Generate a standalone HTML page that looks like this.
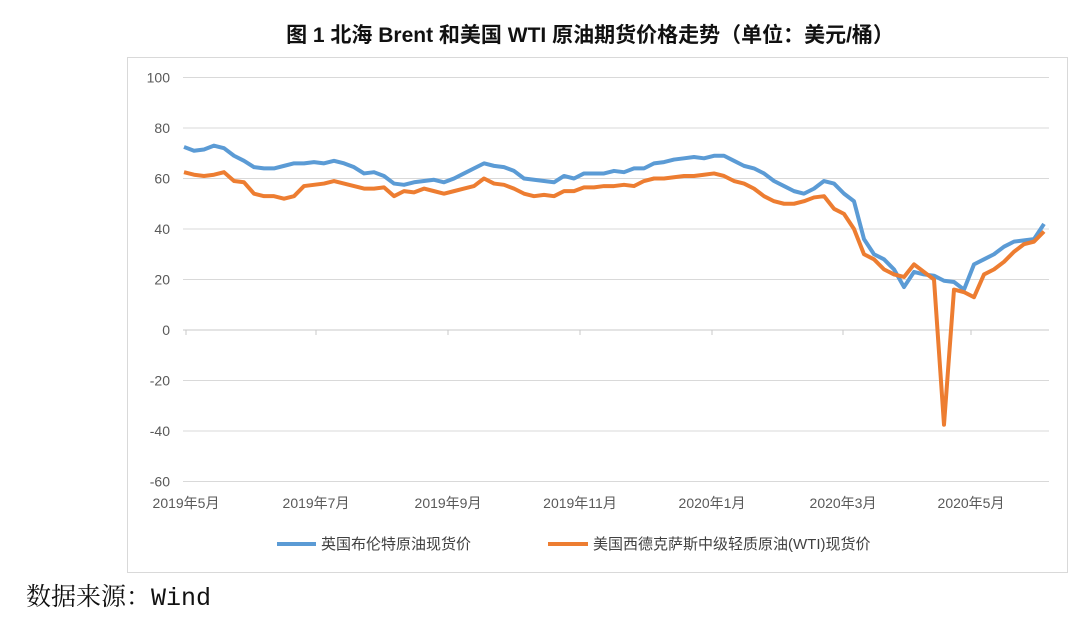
<!DOCTYPE html>
<html><head><meta charset="utf-8"><style>
body{margin:0;background:#fff;width:1080px;height:613px;overflow:hidden;font-family:"Liberation Sans","Noto Sans CJK SC",sans-serif;}
</style></head><body>
<svg width="1080" height="613">
<text x="590" y="42" text-anchor="middle" font-size="21" font-weight="bold" fill="#111" font-family="Liberation Sans, Noto Sans CJK SC, sans-serif">图 1 北海 Brent 和美国 WTI 原油期货价格走势（单位：美元/桶）</text>
<rect x="127.5" y="57.5" width="940" height="515" fill="none" stroke="#d9d9d9"/>
<g id="grid"></g><g id="axes"></g><g id="lines"></g>
<line x1="277" y1="544" x2="316" y2="544" stroke="#5b9bd5" stroke-width="4"/>
<text x="321" y="549" font-size="15" fill="#404040">英国布伦特原油现货价</text>
<line x1="548" y1="544" x2="588" y2="544" stroke="#ed7d31" stroke-width="4"/>
<text x="593" y="549" font-size="15" fill="#404040">美国西德克萨斯中级轻质原油(WTI)现货价</text>
<text x="26" y="605" font-size="25" fill="#111" font-family="Liberation Mono, Noto Serif CJK SC, serif">数据来源：Wind</text>
</svg>
<script>
const yTicks=[100,80,60,40,20,0,-20,-40,-60];
const xLabels=["2019年5月","2019年7月","2019年9月","2019年11月","2020年1月","2020年3月","2020年5月"];
const xLabelIdx=[0.2,13.2,26.4,39.6,52.8,65.9,78.7];
const brent=[72.5,71,71.5,73,72,69,67,64.5,64,64,65,66,66,66.5,66,67,66,64.5,62,62.5,61,58,57.5,58.5,59,59.5,58.5,60,62,64,66,65,64.5,63,60,59.5,59,58.5,61,60,62,62,62,63,62.5,64,64,66,66.5,67.5,68,68.5,68,69,69,67,65,64,62,59,57,55,54,56,59,58,54,51,36,30,28,24,17,23,22,21.5,19.5,19,16,26,28,30,33,35,35.5,36,42];
const wti=[62.5,61.5,61,61.5,62.5,59,58.5,54,53,53,52,53,57,57.5,58,59,58,57,56,56,56.5,53,55,54.5,56,55,54,55,56,57,60,58,57.5,56,54,53,53.5,53,55,55,56.5,56.5,57,57,57.5,57,59,60,60,60.5,61,61,61.5,62,61,59,58,56,53,51,50,50,51,52.5,53,48,46,40,30,28,24,22,21,26,23,20,-37.5,16,15,13,22,24,27,31,34,35,39];
const NS="http://www.w3.org/2000/svg";
const x=i=>184+i*10;
const y=v=>330-v*2.525;
function mk(tag,attrs,parent){const e=document.createElementNS(NS,tag);for(const k in attrs)e.setAttribute(k,attrs[k]);parent.appendChild(e);return e;}
const grid=document.getElementById('grid'),axes=document.getElementById('axes'),lines=document.getElementById('lines');
yTicks.forEach(v=>{
  const g=mk('line',{x1:183,x2:1049,y1:y(v),y2:y(v),stroke:v===0?'#c8c8c8':'#d9d9d9','stroke-width':1},grid);
  
  
  const t=mk('text',{x:170,y:y(v)+5,'text-anchor':'end','font-size':14,fill:'#595959'},axes);
  t.textContent=v;
  
  
});
xLabels.forEach((s,k)=>{
  const xi=x(xLabelIdx[k]);
  const tk=mk('line',{x1:xi,x2:xi,y1:330,y2:335,stroke:'#c8c8c8'},axes);
  
  
  const t=mk('text',{x:xi,y:508,'text-anchor':'middle','font-size':14,fill:'#595959'},axes);
  t.textContent=s;
  
  
});
function drawLine(arr,color,name){
  const d=arr.map((v,i)=>(i?'L':'M')+x(i)+','+y(v)).join(' ');
  const p=mk('path',{d:d,fill:'none',stroke:color,'stroke-width':4,'stroke-linejoin':'round'},lines);
  
  
}
drawLine(brent,'#5b9bd5','brent-line');
drawLine(wti,'#ed7d31','wti-line');
</script>
</body></html>
